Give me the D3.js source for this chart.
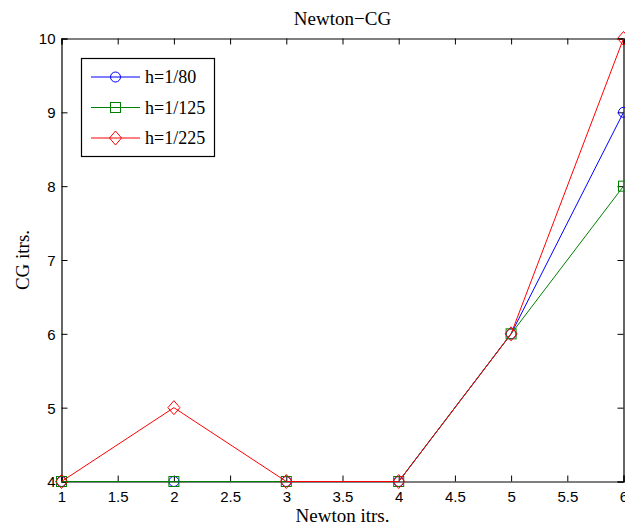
<!DOCTYPE html>
<html>
<head>
<meta charset="utf-8">
<script src="https://cdn.jsdelivr.net/npm/d3@7"></script>
<style>
  body { margin: 0; background: #fff; }
  svg { display: block; }
</style>
</head>
<body>
<div id="area"></div>
<script>
'use strict';

// chart data
const newtonIters = [1, 2, 3, 4, 5, 6];
const cgH80  = [4, 4, 4, 4, 6, 9];
const cgH125 = [4, 4, 4, 4, 6, 8];
const cgH225 = [4, 5, 4, 4, 6, 10];
const seriesNames = ['h=1/80', 'h=1/125', 'h=1/225'];
const xTicks = [1, 1.5, 2, 2.5, 3, 3.5, 4, 4.5, 5, 5.5, 6];
const yTicks = [4, 5, 6, 7, 8, 9, 10];

const W = 625, H = 528;
const m = { left: 61.5, right: 623.5, top: 38.5, bottom: 481.5 };

const svg = d3.select('#area').append('svg').attr('width', W).attr('height', H);

const x = d3.scaleLinear().domain([1, 6]).range([m.left, m.right]);
const y = d3.scaleLinear().domain([4, 10]).range([m.bottom, m.top]);

const tickFont = '"Liberation Sans", Arial, sans-serif';
const serif = '"Liberation Serif", "Times New Roman", serif';

// axes: ticks pointing inward, mirrored on top and right
const axB = svg.append('g').attr('transform', `translate(0,${m.bottom})`)
  .call(d3.axisBottom(x).tickValues(xTicks).tickSize(-6).tickPadding(10).tickFormat(d3.format('')));
const axT = svg.append('g').attr('transform', `translate(0,${m.top})`)
  .call(d3.axisTop(x).tickValues(xTicks).tickSize(-6).tickFormat(''));
const axL = svg.append('g').attr('transform', `translate(${m.left},0)`)
  .call(d3.axisLeft(y).tickValues(yTicks).tickSize(-6).tickPadding(6).tickFormat(d3.format('d')));
const axR = svg.append('g').attr('transform', `translate(${m.right},0)`)
  .call(d3.axisRight(y).tickValues(yTicks).tickSize(-6).tickFormat(''));

[axB, axT, axL, axR].forEach(function (g) {
  g.select('.domain').attr('stroke', '#000').attr('stroke-width', 1.2);
  g.selectAll('.tick line').attr('stroke', '#000').attr('stroke-width', 1);
  g.selectAll('.tick text').attr('fill', '#000').style('font-family', tickFont).style('font-size', '15px');
});
axB.selectAll('.tick text').attr('dy', '0.71em');
axL.selectAll('.tick text').attr('dy', '0.36em');

const series = [
  { name: seriesNames[0], vals: cgH80,  color: '#0000ff', marker: 'circle' },
  { name: seriesNames[1], vals: cgH125, color: '#008000', marker: 'square' },
  { name: seriesNames[2], vals: cgH225, color: '#ff0000', marker: 'diamond' }
];

function drawMarker(g, type, cx, cy, color) {
  if (type === 'circle') {
    g.append('circle').attr('cx', cx).attr('cy', cy).attr('r', 5)
      .attr('fill', 'none').attr('stroke', color).attr('stroke-width', 1);
  } else if (type === 'square') {
    g.append('rect').attr('x', cx - 5).attr('y', cy - 5).attr('width', 10).attr('height', 10)
      .attr('fill', 'none').attr('stroke', color).attr('stroke-width', 1);
  } else {
    g.append('path').attr('d', `M${cx},${cy - 7} L${cx + 6},${cy} L${cx},${cy + 7} L${cx - 6},${cy} Z`)
      .attr('fill', 'none').attr('stroke', color).attr('stroke-width', 1);
  }
}

const line = d3.line().x(function (d, i) { return x(newtonIters[i]); }).y(function (d) { return y(d); });

series.forEach(function (s) {
  const g = svg.append('g');
  g.append('path').attr('d', line(s.vals)).attr('fill', 'none')
    .attr('stroke', s.color).attr('stroke-width', 1);
  s.vals.forEach(function (v, i) {
    drawMarker(g, s.marker, x(newtonIters[i]), y(v), s.color);
  });
});

// title and labels
svg.append('text').attr('x', (m.left + m.right) / 2).attr('y', 25)
  .attr('text-anchor', 'middle').style('font-family', serif).style('font-size', '19px')
  .text('Newton\u2212CG');
svg.append('text').attr('x', (m.left + m.right) / 2).attr('y', 522)
  .attr('text-anchor', 'middle').style('font-family', serif).style('font-size', '19px')
  .text('Newton itrs.');
svg.append('text').attr('transform', `translate(29,${(m.top + m.bottom) / 2}) rotate(-90)`)
  .attr('text-anchor', 'middle').style('font-family', serif).style('font-size', '19px')
  .text('CG itrs.');

// legend
const lg = svg.append('g');
lg.append('rect').attr('x', 81.5).attr('y', 58.5).attr('width', 133).attr('height', 98)
  .attr('fill', '#fff').attr('stroke', '#000').attr('stroke-width', 1.2);
series.forEach(function (s, i) {
  const ly = 77 + i * 30.5;
  lg.append('line').attr('x1', 91).attr('x2', 140).attr('y1', ly).attr('y2', ly)
    .attr('stroke', s.color).attr('stroke-width', 1);
  drawMarker(lg, s.marker, 115.5, ly, s.color);
  lg.append('text').attr('x', 145).attr('y', ly).attr('dy', '0.35em')
    .style('font-family', serif).style('font-size', '18px').text(s.name);
});
</script>
</body>
</html>
